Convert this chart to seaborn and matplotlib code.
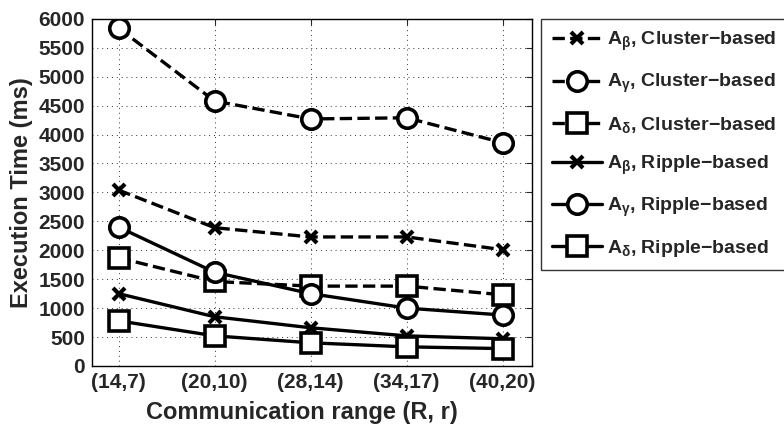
import matplotlib
matplotlib.use("Agg")
import matplotlib.pyplot as plt
import seaborn as sns
import pandas as pd

# Communication range settings on the x axis
ranges = ["(14,7)", "(20,10)", "(28,14)", "(34,17)", "(40,20)"]

# Execution time (ms) per algorithm and scheme
beta_cluster = [3040, 2390, 2230, 2230, 2010]
gamma_cluster = [5840, 4580, 4270, 4290, 3860]
delta_cluster = [1870, 1460, 1380, 1380, 1230]
beta_ripple = [1250, 850, 660, 520, 470]
gamma_ripple = [2400, 1620, 1250, 1000, 880]
delta_ripple = [780, 520, 400, 330, 300]

series_labels = [
    r"A$_{\beta}$, Cluster−based",
    r"A$_{\gamma}$, Cluster−based",
    r"A$_{\delta}$, Cluster−based",
    r"A$_{\beta}$, Ripple−based",
    r"A$_{\gamma}$, Ripple−based",
    r"A$_{\delta}$, Ripple−based",
]
series_values = [beta_cluster, gamma_cluster, delta_cluster,
                 beta_ripple, gamma_ripple, delta_ripple]
y_ticks = list(range(0, 6001, 500))

sns.set_theme(style="white")
plt.rcParams["font.family"] = ["Liberation Sans", "DejaVu Sans"]
plt.rcParams["font.weight"] = "bold"
plt.rcParams["mathtext.fontset"] = "custom"
plt.rcParams["mathtext.rm"] = "Liberation Sans:bold"
plt.rcParams["mathtext.it"] = "Liberation Sans"
plt.rcParams["mathtext.bf"] = "Liberation Sans:bold"

fig = plt.figure(figsize=(7.84, 4.29), dpi=100)
ax = fig.add_axes([0.117, 0.147, 0.562, 0.809])

styles = [("--", "x", 9, 3.0), ("--", "o", 14, 2.6), ("--", "s", 14, 2.6),
          ("-", "x", 9, 3.0), ("-", "o", 14, 2.6), ("-", "s", 14, 2.6)]

pos = list(range(1, len(ranges) + 1))
for label, vals, (ls, mk, ms, mew) in zip(series_labels, series_values, styles):
    df = pd.DataFrame({"pos": pos, "time": vals})
    sns.lineplot(data=df, x="pos", y="time", ax=ax, color="black",
                 linestyle=ls, linewidth=2.4, marker=mk, markersize=ms,
                 markeredgewidth=mew, markerfacecolor="white",
                 markeredgecolor="black", label=label)

ax.set_xlim(0.72, 5.31)
ax.set_ylim(0, 6000)
ax.set_xticks(pos)
ax.set_xticklabels(ranges)
ax.set_yticks(y_ticks)
ax.tick_params(direction="in", labelsize=15, length=4, width=0.8,
               top=True, right=True, pad=5)
for lab in ax.get_xticklabels() + ax.get_yticklabels():
    lab.set_fontweight("bold")
ax.grid(True, linestyle=(0, (1, 4)), color="black", linewidth=0.7, alpha=0.8)
for sp in ax.spines.values():
    sp.set_color("black")
    sp.set_linewidth(1.0)

ax.set_xlabel("Communication range (R, r)", fontsize=17, fontweight="bold")
ax.xaxis.set_label_coords(0.477, -0.10)
ax.set_ylabel("Execution Time (ms)", fontsize=17, fontweight="bold", labelpad=4)

leg = ax.legend(loc="upper left", bbox_to_anchor=(0.690, 0.955),
                bbox_transform=fig.transFigure, fontsize=14, frameon=True,
                fancybox=False, edgecolor="black", handlelength=2.6,
                handletextpad=0.25, labelspacing=0.98, borderpad=0.55,
                borderaxespad=0)
leg.get_frame().set_linewidth(1.0)
for t in leg.get_texts():
    t.set_fontweight("bold")

fig.savefig("out.png", dpi=100)
